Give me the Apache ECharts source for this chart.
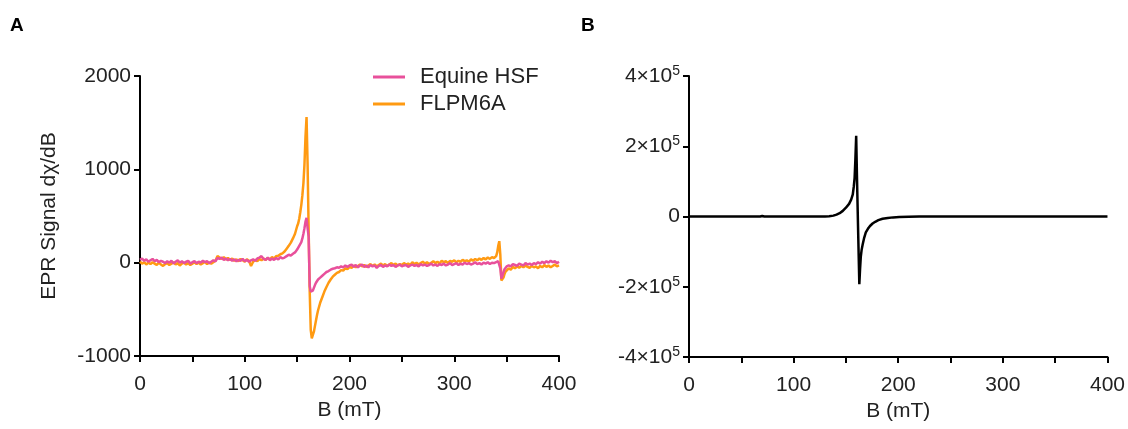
<!DOCTYPE html>
<html>
<head>
<meta charset="utf-8">
<script src="https://cdn.jsdelivr.net/npm/echarts@6/dist/echarts.min.js"></script>
<style>html,body{margin:0;padding:0;background:#fff}#c{width:1128px;height:429px}</style>
</head>
<body>
<div id="c"></div>
<script>
// ---- Data (B in mT, EPR signal) ----
const seriesNamesA = ['Equine HSF', 'FLPM6A'];
const xTicks = [0, 100, 200, 300, 400];
const yTicksA = [-1000, 0, 1000, 2000];
const yTicksB = [-400000, -200000, 0, 200000, 400000];

const equineHSF = [
[0,30],[2,45],[4,20],[6,35],[8,10],[10,25],[12,40],[14,15],[16,30],[18,5],[20,20],[22,10],[24,-5],[26,15],[28,0],[30,20],[32,-10],[34,10],[36,25],[38,0],[40,15],[42,-5],[44,10],[46,20],[48,-10],[50,5],[52,15],[54,-5],[56,10],[58,0],[60,20],[62,5],[64,15],[66,-5],[68,10],[70,25],[72,15],[74,50],[76,40],[78,55],[80,30],[82,45],[84,25],[86,40],[88,20],[90,35],[92,15],[94,30],[96,20],[98,40],[100,15],[102,30],[104,10],[106,25],[108,35],[110,20],[112,45],[114,55],[116,70],[118,40],[120,30],[122,55],[124,25],[126,45],[128,30],[130,50],[132,35],[134,60],[136,45],[138,55],[140,70],[142,85],[144,75],[146,95],[148,110],[150,140],
[151,160],[152,180],[153,200],[154,220],[155,260],[156,310],[157,370],[158,440],[159,480],[160,370],[161,280],[162,-250],[163,-310],[164,-330],[165,-300],[166,-270],[167,-240],[168,-215],[169,-195],[170,-180],
[172,-160],[174,-140],[176,-120],[178,-100],[180,-90],[182,-75],[184,-65],[186,-60],[188,-50],[190,-55],[192,-40],[194,-50],[196,-30],[198,-45],[200,-30],[202,-20],[204,-45],[206,-25],[208,-50],[210,-30],[212,-20],[214,-45],[216,-30],[218,-50],[220,-25],[222,-40],[224,-30],[226,-55],[228,-35],[230,-25],[232,-45],[234,-30],[236,-40],[238,-20],[240,-35],[242,-25],[244,-45],[246,-30],[248,-20],[250,-40],[252,-30],[254,-25],[256,-45],[258,-30],[260,-20],[262,-35],[264,-25],[266,-40],[268,-15],[270,-30],[272,-20],[274,-35],[276,-25],[278,-10],[280,-30],[282,-20],[284,-35],[286,-15],[288,-25],[290,-10],[292,-30],[294,-20],[296,-5],[298,-25],[300,-15],[302,-5],[304,-25],[306,-10],[308,-20],[310,0],[312,-15],[314,-5],[316,-20],[318,-10],[320,5],[322,-15],[324,-5],[326,-20],[328,0],[330,-10],[332,5],[334,-15],[336,0],[338,-5],[340,5],
[341,10],[342,15],[343,5],[344,-60],[345,-170],[346,-140],[347,-100],[348,-70],[349,-50],[350,-40],
[352,-30],[354,-40],[356,-15],[358,-25],[360,-35],[362,-10],[364,-20],[366,-30],[368,-5],[370,-20],[372,-10],[374,-25],[376,-5],[378,-15],[380,5],[382,-10],[384,10],[386,-5],[388,15],[390,0],[392,20],[394,5],[396,15],[398,-5],[400,10]
];

const flpm6a = [
[0,10],[2,-10],[4,5],[6,-20],[8,0],[10,-15],[12,5],[14,-10],[16,-25],[18,0],[20,-20],[22,-35],[24,-15],[26,-5],[28,-25],[30,-10],[32,5],[34,-20],[36,-5],[38,-30],[40,-10],[42,0],[44,-20],[46,-5],[48,-25],[50,-10],[52,5],[54,-15],[56,0],[58,-20],[60,-5],[62,10],[64,-15],[66,0],[68,-10],[70,5],[72,20],[74,70],[76,55],[78,40],[80,60],[82,35],[84,50],[86,30],[88,45],[90,20],[92,35],[94,15],[96,40],[98,25],[100,10],[102,35],[104,20],[106,-35],[108,10],[110,30],[112,15],[114,40],[116,25],[118,45],[120,30],[122,50],[124,35],[126,60],[128,45],[130,70],[132,75],[134,90],[136,100],[138,120],[140,150],[142,180],[144,215],[146,260],[148,310],[150,390],
[151,420],[152,470],[153,540],[154,620],[155,720],[156,850],[157,1050],[158,1350],[159,1560],[160,1050],[161,350],[162,-300],[163,-720],[164,-810],[165,-790],[166,-740],[167,-680],[168,-620],[169,-560],[170,-510],
[172,-430],[174,-370],[176,-310],[178,-260],[180,-215],[182,-180],[184,-150],[186,-130],[188,-110],[190,-100],[192,-80],[194,-85],[196,-60],[198,-70],[200,-45],[202,-55],[204,-30],[206,-50],[208,-35],[210,-20],[212,-40],[214,-25],[216,-45],[218,-30],[220,-15],[222,-35],[224,-20],[226,-40],[228,-25],[230,-10],[232,-30],[234,-15],[236,-35],[238,-20],[240,-5],[242,-25],[244,-10],[246,-30],[248,-15],[250,-25],[252,-5],[254,-20],[256,-10],[258,-25],[260,5],[262,-15],[264,0],[266,-20],[268,-5],[270,10],[272,-10],[274,5],[276,-15],[278,0],[280,15],[282,-5],[284,10],[286,-10],[288,20],[290,5],[292,15],[294,-5],[296,20],[298,10],[300,25],[302,5],[304,20],[306,10],[308,30],[310,15],[312,25],[314,10],[316,35],[318,20],[320,40],[322,25],[324,45],[326,30],[328,50],[330,35],[332,55],[334,40],[336,60],[338,50],[340,70],
[341,110],[342,180],[343,230],[344,80],[345,-190],[346,-210],[347,-160],[348,-120],[349,-95],[350,-80],
[352,-60],[354,-75],[356,-45],[358,-60],[360,-40],[362,-55],[364,-35],[366,-50],[368,-30],[370,-45],[372,-55],[374,-35],[376,-50],[378,-40],[380,-60],[382,-35],[384,-50],[386,-25],[388,-45],[390,-30],[392,-50],[394,-35],[396,-20],[398,-40],[400,-30]
];

const simulatedB = [
[0,0],[50,0],[68,0],[70,1500],[72,0],[100,0],[130,0],[134,500],[138,2500],[141,5500],[144,9500],[147,16000],[150,25000],[153,36000],[155,48000],[156.5,62000],[157.5,85000],[158.3,110000],[159,160000],[159.8,230000],[160.5,120000],[161.5,-20000],[162.8,-193000],[163.5,-150000],[164.2,-115000],[165,-95000],[166,-80000],[167.5,-60000],[169,-45000],[171,-35000],[173,-27000],[175.5,-20000],[178,-15000],[181,-10500],[185,-6500],[190,-4000],[195,-2500],[201,-1500],[210,-700],[220,-200],[235,0],[300,0],[400,0]
];

// ---- Chart ----
const FONT = "'Liberation Sans', Arial, sans-serif";
const TXT = '#222';
const TICK_FS = 21;
const TITLE_FS = 21;
const chart = echarts.init(document.getElementById('c'), null, {renderer: 'canvas'});

function xAxisCfg(gridIndex) {
  return {
    type: 'value', gridIndex, min: xTicks[0], max: xTicks[xTicks.length - 1], interval: 50,
    name: 'B (mT)', nameLocation: 'middle', nameGap: 38,
    nameTextStyle: {fontFamily: FONT, fontSize: TITLE_FS, color: TXT},
    axisLine: {show: true, onZero: false, lineStyle: {color: '#000', width: 2}},
    axisTick: {show: true, inside: false, length: 6, lineStyle: {color: '#000', width: 2}},
    axisLabel: {margin: 18, fontFamily: FONT, fontSize: TICK_FS, color: TXT,
      formatter: v => (xTicks.indexOf(v) >= 0 ? String(v) : '')},
    splitLine: {show: false}
  };
}

const sciFmt = v => {
  if (v === 0) return '{n|0}';
  const m = v / 100000;
  return '{n|' + (m < 0 ? '-' : '') + Math.abs(m) + '×10}{s|5}';
};

const option = {
  animation: false,
  backgroundColor: '#fff',
  grid: [
    {left: 140, top: 76, width: 419, height: 280},
    {left: 689, top: 76, width: 420, height: 281}
  ],
  xAxis: [xAxisCfg(0), xAxisCfg(1)],
  yAxis: [
    {
      type: 'value', gridIndex: 0, min: yTicksA[0], max: yTicksA[yTicksA.length - 1], interval: 1000,
      name: 'EPR Signal dχ/dB', nameLocation: 'middle', nameGap: 80,
      nameTextStyle: {fontFamily: FONT, fontSize: TITLE_FS, color: TXT},
      axisLine: {show: true, onZero: false, lineStyle: {color: '#000', width: 2}},
      axisTick: {show: true, length: 6, lineStyle: {color: '#000', width: 2}},
      axisLabel: {margin: 9, fontFamily: FONT, fontSize: TICK_FS, color: TXT, formatter: v => String(v)},
      splitLine: {show: false}
    },
    {
      type: 'value', gridIndex: 1, min: yTicksB[0], max: yTicksB[yTicksB.length - 1], interval: 200000,
      axisLine: {show: true, onZero: false, lineStyle: {color: '#000', width: 2}},
      axisTick: {show: true, length: 6, lineStyle: {color: '#000', width: 2}},
      axisLabel: {margin: 9, formatter: sciFmt,
        rich: {
          n: {fontFamily: FONT, fontSize: TICK_FS, color: TXT},
          s: {fontFamily: FONT, fontSize: 14, color: TXT, verticalAlign: 'top', padding: [0, 0, 10, 0]}
        }},
      splitLine: {show: false}
    }
  ],
  legend: {
    data: seriesNamesA, orient: 'vertical', left: 368, top: 61,
    itemWidth: 32, itemHeight: 3, itemGap: 5,
    textStyle: {fontFamily: FONT, fontSize: 22, color: TXT, padding: [0, 0, 0, 10]},
    icon: 'rect'
  },
  graphic: [
    {type: 'text', left: 10, top: 16, style: {text: 'A', font: 'bold 19px ' + FONT, fill: '#000'}},
    {type: 'text', left: 581, top: 16, style: {text: 'B', font: 'bold 19px ' + FONT, fill: '#000'}}
  ],
  series: [
    {name: seriesNamesA[1], type: 'line', xAxisIndex: 0, yAxisIndex: 0, data: flpm6a,
     showSymbol: false, symbol: 'none', color: '#FF9A12', lineStyle: {width: 2.5, color: '#FF9A12'}, z: 2},
    {name: seriesNamesA[0], type: 'line', xAxisIndex: 0, yAxisIndex: 0, data: equineHSF,
     showSymbol: false, symbol: 'none', color: '#E8509B', lineStyle: {width: 2.5, color: '#E8509B'}, z: 3},
    {name: 'Simulated', type: 'line', xAxisIndex: 1, yAxisIndex: 1, data: simulatedB,
     showSymbol: false, symbol: 'none', color: '#000', lineStyle: {width: 2.5, color: '#000'}}
  ]
};
chart.setOption(option);
</script>
</body>
</html>
